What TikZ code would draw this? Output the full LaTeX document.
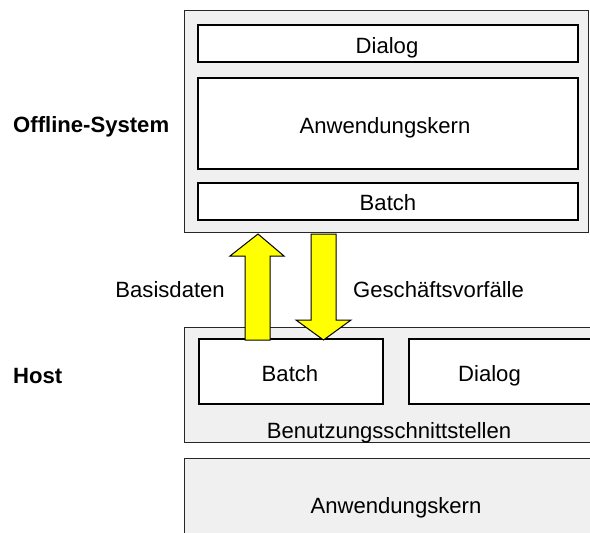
\documentclass[tikz,border=0pt]{standalone}
\usepackage{fontspec}
\setmainfont{Liberation Sans}
\usetikzlibrary{calc}
\definecolor{boxgray}{HTML}{F0F0F0}
\definecolor{arrowyellow}{HTML}{FFFF00}
\begin{document}
\begin{tikzpicture}[x=1pt,y=-1pt,
  font=\fontsize{22.1}{26}\selectfont,
  outerbox/.style={draw=black!85, line width=1.2pt, fill=boxgray, inner sep=0pt, anchor=north west},
  innerbox/.style={draw=black, line width=1.5pt, fill=white, inner sep=0pt, anchor=north west},
  lbl/.style={inner sep=0pt, anchor=base},
  sidelbl/.style={inner sep=0pt, anchor=base west, font=\fontsize{22.1}{26}\selectfont\bfseries},
  blockarrow/.style={draw=black, line width=1pt, fill=arrowyellow, line join=miter}]
\useasboundingbox (0,0) rectangle (590,533);
\clip (0,0) rectangle (590,533);
% Offline-System
\node[outerbox, minimum width=404pt, minimum height=222pt] (ooff) at (184,10) {};
\node[innerbox, minimum width=380pt, minimum height=37pt] (odialog) at (197,24) {};
\node[innerbox, minimum width=380pt, minimum height=91pt] (okern) at (197,77) {};
\node[innerbox, minimum width=380pt, minimum height=37pt] (obatch) at (197,182) {};
\node[lbl] (todialog) at (387,53.3) {Dialog};
\node[lbl] (tokern) at (385,133.3) {Anwendungskern};
\node[lbl] (tobatch) at (388,210.7) {Batch};
% Host
\node[outerbox, minimum width=410pt, minimum height=115pt] (hhost) at (184,327) {};
\node[innerbox, minimum width=184pt, minimum height=65pt] (hbatch) at (198,338) {};
\node[innerbox, minimum width=184pt, minimum height=65pt] (hdialog) at (408,338) {};
\node[lbl] (thbatch) at (290,381) {Batch};
\node[lbl] (thdialog) at (489.5,381) {Dialog};
\node[lbl] (thschnitt) at (389,438) {Benutzungsschnittstellen};
\node[outerbox, minimum width=424pt, minimum height=94pt] (hkern) at (184,458) {};
\node[lbl] (thkern) at (396,513) {Anwendungskern};
% side labels
\node[sidelbl] (loff) at (13,132) {Offline-System};
\node[sidelbl] (lhost) at (13,383) {Host};
% arrows
\coordinate (uptip) at (258,234);
\coordinate (upfoot) at (258,340);
\coordinate (dntop) at (323.5,234);
\coordinate (dntip) at (323.5,340);
\draw[blockarrow] ($(upfoot)+(-13,0)$) -- ($(uptip)+(-13,22)$) -- ($(uptip)+(-28,22)$) -- (uptip)
  -- ($(uptip)+(26,22)$) -- ($(uptip)+(12,22)$) -- ($(upfoot)+(12,0)$) -- cycle;
\draw[blockarrow] ($(dntop)+(-12.5,0)$) -- ($(dntip)+(-12.5,-20)$) -- ($(dntip)+(-27.5,-20)$) -- (dntip)
  -- ($(dntip)+(27.5,-20)$) -- ($(dntip)+(12.5,-20)$) -- ($(dntop)+(12.5,0)$) -- cycle;
\node[inner sep=0pt, anchor=base east] (lbasis) at (225,297) {Basisdaten};
\node[inner sep=0pt, anchor=base west] (lgesch) at (353,297) {Geschäftsvorfälle};
\end{tikzpicture}
\end{document}
